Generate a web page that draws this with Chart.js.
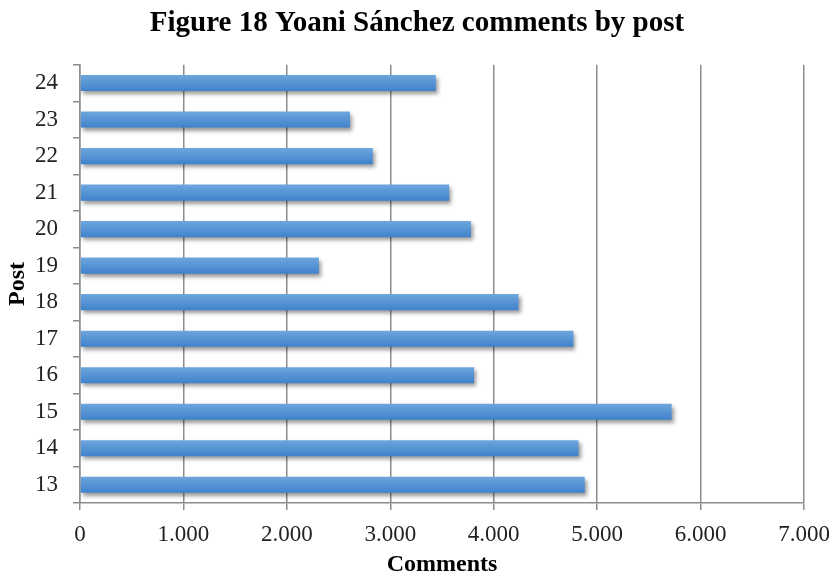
<!DOCTYPE html>
<html>
<head>
<meta charset="utf-8">
<script src="https://cdn.jsdelivr.net/npm/chart.js@4/dist/chart.umd.min.js"></script>
<style>
  html, body { margin: 0; padding: 0; background: #fff; }
  #wrap { width: 834px; height: 575px; }
</style>
</head>
<body>
<div id="wrap"><canvas id="postChart"></canvas></div>
<script>
const posts = ['13', '14', '15', '16', '17', '18', '19', '20', '21', '22', '23', '24'];
const comments = [4880, 4820, 5720, 3810, 4770, 4240, 2310, 3780, 3570, 2830, 2610, 3440];
const xTicks = [0, 1000, 2000, 3000, 4000, 5000, 6000, 7000];

const serif = "'Liberation Serif', 'DejaVu Serif', serif";

// thousands with a dot: 1.000
function fmt(v) {
  return String(v).replace(/\B(?=(\d{3})+(?!\d))/g, '.');
}

// soft drop shadow under the bars
const barShadow = {
  id: 'barShadow',
  beforeDatasetsDraw(chart) {
    const c = chart.ctx;
    c.save();
    c.shadowColor = 'rgba(0,0,0,0.4)';
    c.shadowBlur = 4;
    c.shadowOffsetX = 2;
    c.shadowOffsetY = 3;
  },
  afterDatasetsDraw(chart) {
    chart.ctx.restore();
  }
};

function barFill(context) {
  const chart = context.chart;
  const y = chart.scales.y;
  if (!y || context.dataIndex === undefined) return '#4a8fd6';
  const mid = y.getPixelForValue(context.dataIndex);
  if (!isFinite(mid)) return '#4a8fd6';
  const g = chart.ctx.createLinearGradient(0, mid - 8, 0, mid + 8);
  g.addColorStop(0, '#6ea6de');
  g.addColorStop(1, '#3f82cb');
  return g;
}

new Chart(document.getElementById('postChart'), {
  type: 'bar',
  data: {
    labels: posts,
    datasets: [{
      label: 'Comments',
      data: comments,
      backgroundColor: barFill,
      borderWidth: 0,
      barPercentage: 0.44,
      categoryPercentage: 1
    }]
  },
  plugins: [barShadow],
  options: {
    indexAxis: 'y',
    responsive: true,
    maintainAspectRatio: false,
    animation: false,
    layout: { padding: 0 },
    plugins: {
      legend: { display: false },
      tooltip: { enabled: false },
      title: {
        display: true,
        text: 'Figure 18 Yoani Sánchez comments by post',
        color: '#000',
        font: { family: serif, size: 29, weight: 'bold' },
        padding: { top: 6, bottom: 24 }
      }
    },
    scales: {
      x: {
        min: 0,
        max: 7000,
        afterBuildTicks(axis) {
          axis.ticks = xTicks.map(v => ({ value: v }));
        },
        afterFit(axis) {
          axis.height = 72;
          axis.paddingLeft = 0;
          axis.paddingRight = 30;
        },
        border: { display: true, color: '#8c8c8c', width: 1.5 },
        grid: {
          color: '#8c8c8c',
          lineWidth: 1.5,
          tickLength: 7,
          tickColor: '#8c8c8c'
        },
        ticks: {
          color: '#222',
          font: { family: serif, size: 23 },
          padding: 11,
          callback: v => fmt(v)
        },
        title: {
          display: true,
          text: 'Comments',
          color: '#000',
          font: { family: serif, size: 24, weight: 'bold' },
          padding: { top: 0, bottom: -4 }
        }
      },
      y: {
        reverse: true,
        afterFit(axis) {
          axis.width = 80;
        },
        border: { display: true, color: '#8c8c8c', width: 1.5 },
        grid: {
          offset: true,
          drawOnChartArea: false,
          tickLength: 7,
          color: '#8c8c8c',
          lineWidth: 1.5
        },
        ticks: {
          color: '#222',
          font: { family: serif, size: 23 },
          padding: 15
        },
        title: {
          display: true,
          text: 'Post',
          color: '#000',
          font: { family: serif, size: 24, weight: 'bold' },
          padding: { top: 3, bottom: 0 }
        }
      }
    }
  }
});
</script>
</body>
</html>
